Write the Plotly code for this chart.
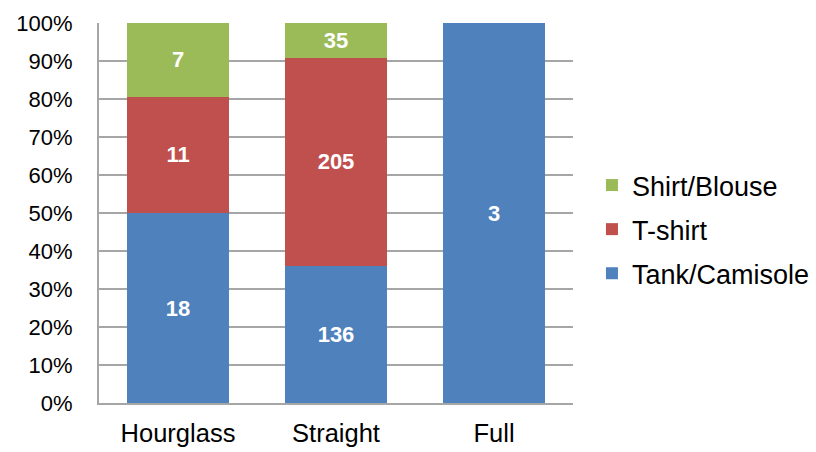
import plotly.graph_objects as go

# Body shapes on the x axis and garment counts per shape
shapes = ["Hourglass", "Straight", "Full"]
tank_camisole = [18, 136, 3]
t_shirt = [11, 205, 0]
shirt_blouse = [7, 35, 0]

# (name, counts, colour, legend position from the top)
series = [
    ("Tank/Camisole", tank_camisole, "#4F81BD", 3),
    ("T-shirt", t_shirt, "#C0504D", 2),
    ("Shirt/Blouse", shirt_blouse, "#9BBB59", 1),
]

tick_vals = [0, 10, 20, 30, 40, 50, 60, 70, 80, 90, 100]
tick_text = [f"{v}%" for v in tick_vals]

FONT = "Liberation Sans, Arial, sans-serif"

fig = go.Figure()
for name, counts, color, rank in series:
    fig.add_trace(go.Bar(
        x=shapes,
        y=counts,
        name=name,
        legendgroup=name,
        legendrank=rank,
        marker=dict(color=color, line=dict(width=0)),
        text=[str(c) if c else "" for c in counts],
        textposition="inside",
        insidetextanchor="middle",
        textangle=0,
        textfont=dict(family=FONT, size=22, color="white", weight="bold"),
        hoverinfo="skip",
    ))

fig.update_layout(
    barmode="stack",
    barnorm="percent",
    bargap=0.36,
    width=816,
    height=452,
    margin=dict(l=98.5, r=243, t=23, b=49, autoexpand=False),
    paper_bgcolor="white",
    plot_bgcolor="white",
    font=dict(family=FONT, color="black"),
    uniformtext=dict(minsize=22, mode="show"),
    legend=dict(
        traceorder="grouped",
        tracegroupgap=6,
        x=1.04,
        xanchor="left",
        y=0.4566,
        yanchor="middle",
        font=dict(family=FONT, size=27, color="black"),
        bgcolor="rgba(0,0,0,0)",
    ),
    xaxis=dict(
        automargin=False,
        showgrid=False,
        showline=True,
        linecolor="#A6A6A6",
        linewidth=2,
        ticks="",
        tickfont=dict(family=FONT, size=25.5),
        ticklabelstandoff=6,
    ),
    yaxis=dict(
        automargin=False,
        range=[0, 100],
        tickvals=tick_vals,
        ticktext=tick_text,
        showgrid=True,
        gridcolor="#A6A6A6",
        gridwidth=2,
        showline=True,
        linecolor="#A6A6A6",
        linewidth=2,
        zeroline=False,
        ticks="",
        tickfont=dict(family=FONT, size=22),
        ticklabelstandoff=20,
    ),
)

fig.write_html("out.html")
